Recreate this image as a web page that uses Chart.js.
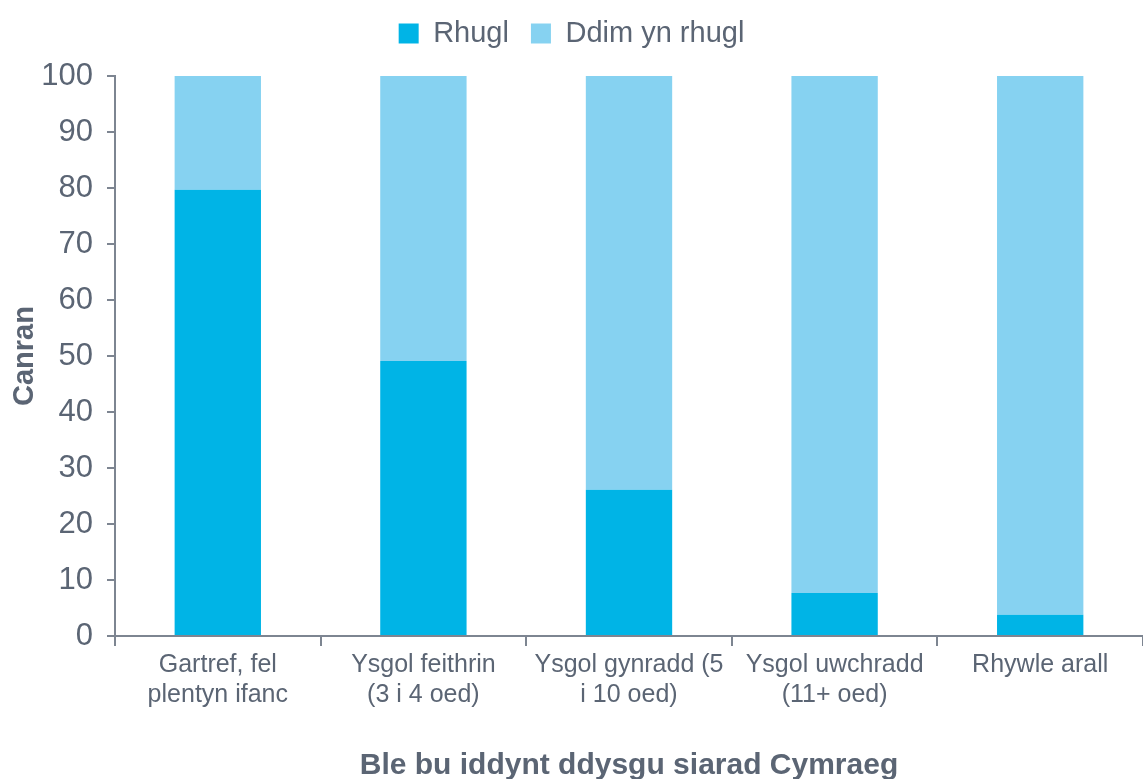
<!DOCTYPE html>
<html>
<head>
<meta charset="utf-8">
<script src="https://cdn.jsdelivr.net/npm/chart.js@4/dist/chart.umd.min.js"></script>
<style>
  html, body { margin: 0; padding: 0; background: #fff; }
  #wrap { width: 1143px; height: 779px; }
</style>
</head>
<body>
<div id="wrap"><canvas id="chart"></canvas></div>
<script>
// categorïau a gwerthoedd (canran)
const categories = [
  ['Gartref, fel', 'plentyn ifanc'],
  ['Ysgol feithrin', '(3 i 4 oed)'],
  ['Ysgol gynradd (5', 'i 10 oed)'],
  ['Ysgol uwchradd', '(11+ oed)'],
  'Rhywle arall'
];
const rhugl = [79.7, 49.1, 26.1, 7.7, 3.8];
const ddimRhugl = [20.3, 50.9, 73.9, 92.3, 96.2];
const yTicks = [0, 10, 20, 30, 40, 50, 60, 70, 80, 90, 100];

const textColor = '#5b6574';
const axisColor = '#7d8591';

// bwlch ychwanegol o dan yr allwedd
const legendGap = {
  id: 'legendGap',
  beforeInit(chart) {
    const origFit = chart.legend.fit;
    chart.legend.fit = function () {
      origFit.bind(chart.legend)();
      this.height += 18;
    };
  }
};

new Chart(document.getElementById('chart'), {
  type: 'bar',
  data: {
    labels: categories,
    datasets: [
      { label: 'Rhugl', data: rhugl, backgroundColor: '#00b4e6', categoryPercentage: 1, barPercentage: 0.42 },
      { label: 'Ddim yn rhugl', data: ddimRhugl, backgroundColor: '#86d2f1', categoryPercentage: 1, barPercentage: 0.42 }
    ]
  },
  plugins: [legendGap],
  options: {
    responsive: true,
    maintainAspectRatio: false,
    animation: false,
    layout: { padding: { left: 0, right: 0, top: -3, bottom: 0 } },
    plugins: {
      legend: {
        position: 'top',
        labels: {
          color: textColor,
          font: { family: 'Liberation Sans', size: 29 },
          boxWidth: 20,
          boxHeight: 20,
          padding: 22,
          useBorderRadius: false
        }
      },
      tooltip: { enabled: false }
    },
    scales: {
      x: {
        stacked: true,
        border: { color: axisColor, width: 2 },
        grid: { display: true, drawOnChartArea: false, color: axisColor, lineWidth: 2, tickLength: 10, offset: true },
        ticks: { color: textColor, font: { family: 'Liberation Sans', size: 25, lineHeight: 1.2 }, maxRotation: 0, padding: 4 },
        title: {
          display: true,
          text: 'Ble bu iddynt ddysgu siarad Cymraeg',
          color: textColor,
          font: { family: 'Liberation Sans', size: 30, weight: 'bold', lineHeight: 0.9 },
          padding: { top: 38, bottom: 0 }
        }
      },
      y: {
        stacked: true,
        min: 0,
        max: 100,
        afterBuildTicks: (axis) => { axis.ticks = yTicks.map(v => ({ value: v })); },
        afterFit: (axis) => { axis.width = 115; },
        border: { color: axisColor, width: 2 },
        grid: { display: true, drawOnChartArea: false, color: axisColor, lineWidth: 2, tickLength: 8 },
        ticks: { color: textColor, font: { family: 'Liberation Sans', size: 31 }, padding: 14 },
        title: {
          display: true,
          text: 'Canran',
          color: textColor,
          font: { family: 'Liberation Sans', size: 29, weight: 'bold' },
          padding: { top: 8, bottom: 0 }
        }
      }
    }
  }
});
</script>
</body>
</html>
